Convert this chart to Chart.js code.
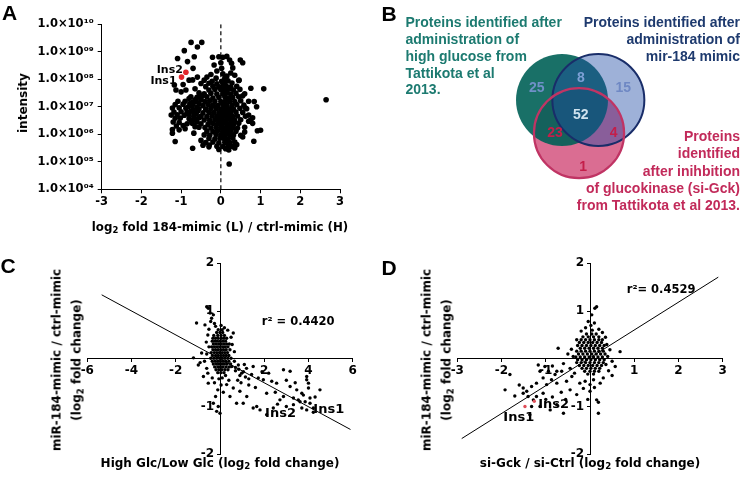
<!DOCTYPE html>
<html><head><meta charset="utf-8">
<script src="https://cdn.jsdelivr.net/npm/chart.js@4.4.1/dist/chart.umd.min.js"></script>
<style>
html,body{margin:0;padding:0;background:#fff;width:741px;height:485px;overflow:hidden;position:relative}
canvas{position:absolute}
.t{position:absolute;white-space:nowrap;font-weight:bold;color:#000}
.dv{font-family:'DejaVu Sans',sans-serif}
.ar{font-family:'Liberation Sans',Arial,sans-serif}
.sub{font-size:0.72em;position:relative;top:0.32em}
</style></head><body>
<canvas id="cA" width="370" height="240" style="left:0;top:0"></canvas>
<canvas id="cB" width="371" height="240" style="left:370px;top:0"></canvas>
<canvas id="cC" width="370" height="245" style="left:0;top:240px"></canvas>
<canvas id="cD" width="371" height="245" style="left:370px;top:240px"></canvas>

<div class="t ar" style="left:2px;top:2px;font-size:21px;line-height:21px">A</div>
<div class="t ar" style="left:381.5px;top:3px;font-size:21px;line-height:21px">B</div>
<div class="t ar" style="left:0.5px;top:255px;font-size:21px;line-height:21px">C</div>
<div class="t ar" style="left:381.5px;top:257px;font-size:21px;line-height:21px">D</div>

<div class="t dv" style="left:220px;top:219.5px;font-size:11.8px;line-height:14px;transform:translateX(-50%)">log<span class="sub">2</span> fold 184-mimic (L) / ctrl-mimic (H)</div>
<div class="t dv" style="left:23px;top:103px;font-size:12px;line-height:14px;transform:translate(-50%,-50%) rotate(-90deg)">intensity</div>

<div class="t dv" style="left:220px;top:455.5px;font-size:12px;line-height:14px;transform:translateX(-50%)">High Glc/Low Glc (log<span class="sub">2</span> fold change)</div>
<div class="t dv" style="left:66.7px;top:360px;font-size:12px;line-height:20px;text-align:center;transform:translate(-50%,-50%) rotate(-90deg)">miR-184-mimic / ctrl-mimic<br>(log<span class="sub">2</span> fold change)</div>

<div class="t dv" style="left:590px;top:455.5px;font-size:12px;line-height:14px;transform:translateX(-50%)">si-Gck / si-Ctrl (log<span class="sub">2</span> fold change)</div>
<div class="t dv" style="left:436.7px;top:360px;font-size:12px;line-height:20px;text-align:center;transform:translate(-50%,-50%) rotate(-90deg)">miR-184-mimic / ctrl-mimic<br>(log<span class="sub">2</span> fold change)</div>

<div class="t ar" style="left:405.5px;top:14.3px;font-size:14px;line-height:16.8px;color:#1c7a70">Proteins identified after<br>administration of<br>high glucose from<br>Tattikota et al<br>2013.</div>
<div class="t ar" style="right:1px;top:14.3px;font-size:14px;line-height:16.8px;text-align:right;color:#1e3a6e">Proteins identified after<br>administration of<br>mir-184 mimic</div>
<div class="t ar" style="right:1px;top:128px;font-size:14px;line-height:17.3px;text-align:right;color:#c22a5a">Proteins<br>identified<br>after inihbition<br>of glucokinase (si-Gck)<br>from Tattikota et al 2013.</div>

<script>
// ---------- Panel A data ----------
const foldTicksA = [-3, -2, -1, 0, 1, 2, 3];
const intensityTicks = [1e4, 1e5, 1e6, 1e7, 1e8, 1e9, 1e10];
const pointsA = [
[-0.22,8.5e7],[0.02,8.5e7],[0.18,8.8e7],
[-0.3,7.2e7],[-0.1,6.8e7],[0.1,7e7],[0.28,7.3e7],
[-0.38,5.4e7],[-0.2,5.6e7],[-0.05,5.3e7],[0.05,5.7e7],[0.15,5.5e7],[0.25,5.2e7],[0.4,5.6e7],
[-0.3,4.1e7],[-0.15,4.3e7],[0,4.2e7],[0.1,4e7],[0.2,4.4e7],[0.32,4.1e7],[0.48,4.3e7],
[-0.42,3e7],[-0.25,3.1e7],[-0.1,2.9e7],[0.05,3e7],[0.15,3.2e7],[0.25,2.9e7],[0.38,3.1e7],[0.6,3e7],
[-0.5,2.2e7],[-0.35,2.3e7],[-0.2,2.1e7],[-0.05,2.2e7],[0.1,2.3e7],[0.2,2.1e7],[0.3,2.2e7],[0.45,2.3e7],
[-0.62,1.6e7],[-0.4,1.55e7],[-0.28,1.65e7],[-0.15,1.6e7],[0,1.55e7],[0.12,1.65e7],[0.22,1.6e7],[0.35,1.55e7],[0.5,1.65e7],[0.7,1.6e7],
[-0.75,1.15e7],[-0.45,1.1e7],[-0.32,1.2e7],[-0.2,1.15e7],[-0.08,1.1e7],[0.05,1.2e7],[0.15,1.15e7],[0.28,1.1e7],[0.4,1.2e7],[0.58,1.15e7],
[-0.55,8.5e6],[-0.38,8.2e6],[-0.25,8.8e6],[-0.12,8.5e6],[0,8.2e6],[0.1,8.8e6],[0.2,8.5e6],[0.32,8.2e6],[0.48,8.8e6],[0.65,8.5e6],
[-0.68,6.2e6],[-0.45,6e6],[-0.3,6.4e6],[-0.18,6.2e6],[-0.05,6e6],[0.05,6.4e6],[0.15,6.2e6],[0.25,6e6],[0.38,6.4e6],[0.55,6.2e6],
[-0.5,4.5e6],[-0.35,4.4e6],[-0.22,4.6e6],[-0.1,4.5e6],[0,4.4e6],[0.1,4.6e6],[0.2,4.5e6],[0.3,4.4e6],[0.42,4.6e6],[0.62,4.5e6],
[-0.42,3.3e6],[-0.28,3.2e6],[-0.15,3.4e6],[-0.05,3.3e6],[0.05,3.2e6],[0.15,3.4e6],[0.25,3.3e6],[0.35,3.2e6],[0.5,3.4e6],[0.75,3.3e6],
[-0.5,2.4e6],[-0.32,2.3e6],[-0.2,2.5e6],[-0.08,2.4e6],[0.02,2.3e6],[0.12,2.5e6],[0.22,2.4e6],[0.32,2.3e6],[0.45,2.5e6],
[-0.4,1.75e6],[-0.25,1.7e6],[-0.12,1.8e6],[0,1.75e6],[0.1,1.7e6],[0.2,1.8e6],[0.3,1.75e6],[0.42,1.7e6],[0.6,1.8e6],
[-0.35,1.3e6],[-0.2,1.25e6],[-0.08,1.35e6],[0.05,1.3e6],[0.15,1.25e6],[0.25,1.35e6],[0.38,1.3e6],
[-0.42,9.5e5],[-0.28,9.2e5],[-0.12,9.8e5],[0,9.5e5],[0.1,9.2e5],[0.22,9.8e5],[0.32,9.5e5],[0.5,9.2e5],
[-0.3,7e5],[-0.15,6.8e5],[-0.02,7.2e5],[0.08,7e5],[0.18,6.8e5],[0.3,7.2e5],
[-0.38,5e5],[-0.2,5.2e5],[-0.05,4.9e5],[0.1,5.1e5],[0.22,5e5],[0.35,5.2e5],
[-0.1,3.7e5],[0.05,3.6e5],[0.18,3.8e5],[0.28,3.7e5],
[-0.05,2.8e5],[0.2,2.7e5],
[-1.15,1.2e7],[-0.95,1.25e7],[-1.22,9e6],[-1.05,9.2e6],[-0.88,8.8e6],[-1.18,6.5e6],[-1.0,6.6e6],[-0.85,6.3e6],
[-1.25,5e6],[-1.1,5.1e6],[-0.92,4.9e6],[-1.15,3.8e6],[-1.02,3.9e6],[-0.8,3.7e6],[-1.2,2.8e6],[-1.05,2.7e6],
[-1.12,2e6],[-0.95,2.1e6],[-1.22,1.5e6],[-1.05,1.45e6],[-1.22,1.1e6],[-1.15,5.5e5],
[-0.7,8e6],[-0.62,5.5e6],[-0.78,1.3e7],[-0.65,3.5e6],[-0.6,2.2e7],[-0.72,2.5e6],[-0.55,1.8e6],[-0.68,1.1e6],[-0.5,6e5],[-0.8,2e7],[-0.9,1.6e7],
[-0.82,1.0e7],[-0.7,1.2e7],[-0.6,9.5e6],[-0.75,7e6],[-0.58,7e6],[-0.8,5.2e6],[-0.68,4.5e6],[-0.55,4e6],[-0.75,3.2e6],[-0.6,2.8e6],
[-0.85,2.4e6],[-0.9,1.6e6],[-0.65,1.9e6],[-0.7,1.5e7],[-0.55,1.3e7],[-0.65,1.8e7],[-0.5,1.8e7],[-0.45,2.6e7],[-0.55,3.2e7],[-0.65,4.5e7],[-1.08,1.6e7],
[-0.75,2.2e9],[-0.48,2.2e9],[-0.59,1.5e9],[-0.92,1.1e9],[-1.09,5.7e8],[-0.67,6.6e8],[-0.84,4.4e8],[-0.8,9.3e7],
[-0.59,1.2e8],[-0.5,7e7],[-1.13,4.1e7],[-1.0,3.5e7],[-0.88,4.1e7],[-0.755,2.3e7],[-0.42,9.3e7],[-1.17,6.2e7],[-0.71,9.5e7],[-0.7,2.5e8],[-0.95,6.5e7],
[-0.05,6.6e8],[0.05,6.3e8],[0.15,6.8e8],[0.22,5e8],[0.27,3.8e8],[0.3,2.6e8],[0.25,1.7e8],[0.15,1.3e8],[0.05,1.6e8],[0.02,2.5e8],[0,4e8],
[-0.17,3.3e8],[-0.21,6.3e8],[0.49,5e8],[0.55,4e8],[-0.1,2e8],[-0.25,1.5e8],[0.35,1.4e8],[0.45,9e7],[-0.35,1.2e8],[0.1,1.1e8],[-0.12,1.1e8],
[0.46,9.3e7],[0.755,4.7e7],[1.08,4.5e7],[0.55,2.5e7],[0.84,1.55e7],[0.9,1.0e7],[0.8,2.5e6],[1.0,1.4e6],[0.92,1.35e6],[0.83,5.6e5],
[0.7,3e6],[0.6,1.2e6],[0.55,8e5],[0.4,4.2e5],[0.35,3.2e5],[0.21,8.3e4],[2.65,1.8e7],[-0.45,4e5],[-0.3,3.5e5],[0.12,3e5],
[-0.71,3.1e5],[-0.29,4.1e5],[0.8,4e6],[0.62,9e6],[0.7,5e6]
];
const insulinA = [['Ins2', -0.88, 1.8e8], ['Ins1', -0.99, 1.2e8]];

// ---------- Panel B data ----------
const vennSetNames = ['High glucose (Tattikota et al 2013)', 'mir-184 mimic', 'si-Gck (Tattikota et al 2013)'];
const vennCenters = [[0, 0], [0.79, 0], [0.37, -0.72]];   // circle centres, in circle-radius units
const vennRadii = [1, 1, 0.98];
const vennCounts = [25, 8, 15, 52, 23, 4, 1];
const vennCountSpots = [[-0.55,0.25],[0.41,0.47],[1.33,0.25],[0.41,-0.33],[-0.15,-0.72],[1.12,-0.72],[0.46,-1.45]];

// ---------- Panel C data ----------
const glcTicks = [-6, -4, -2, 0, 2, 4, 6];
const mimicTicks = [-2, -1, 0, 1, 2];
const pointsC = [
[-0.08,0.61],[0.1,0.61],
[-0.15,0.55],[0,0.55],[0.12,0.55],
[-0.28,0.49],[-0.1,0.49],[0.05,0.49],[0.2,0.49],
[-0.32,0.43],[-0.2,0.43],[-0.08,0.43],[0.06,0.43],[0.18,0.43],[0.3,0.43],
[-0.35,0.37],[-0.24,0.37],[-0.12,0.37],[0,0.37],[0.12,0.37],[0.25,0.37],
[-0.3,0.31],[-0.18,0.31],[-0.06,0.31],[0.06,0.31],[0.18,0.31],[0.3,0.31],[0.42,0.31],
[-0.38,0.25],[-0.25,0.25],[-0.12,0.25],[0,0.25],[0.12,0.25],[0.24,0.25],[0.36,0.25],
[-0.32,0.19],[-0.2,0.19],[-0.08,0.19],[0.04,0.19],[0.16,0.19],[0.28,0.19],[0.45,0.19],
[-0.4,0.13],[-0.26,0.13],[-0.14,0.13],[-0.02,0.13],[0.1,0.13],[0.22,0.13],[0.34,0.13],
[-0.34,0.07],[-0.2,0.07],[-0.08,0.07],[0.04,0.07],[0.16,0.07],[0.28,0.07],[0.4,0.07],
[-0.42,0.01],[-0.28,0.01],[-0.15,0.01],[-0.02,0.01],[0.1,0.01],[0.22,0.01],[0.35,0.01],[0.5,0.01],
[-0.35,-0.05],[-0.22,-0.05],[-0.1,-0.05],[0.02,-0.05],[0.14,-0.05],[0.26,-0.05],[0.4,-0.05],
[-0.3,-0.11],[-0.16,-0.11],[-0.04,-0.11],[0.08,-0.11],[0.2,-0.11],[0.32,-0.11],[0.48,-0.11],
[-0.24,-0.17],[-0.1,-0.17],[0.02,-0.17],[0.14,-0.17],[0.28,-0.17],[0.42,-0.17],
[-0.18,-0.23],[-0.05,-0.23],[0.08,-0.23],[0.22,-0.23],[0.36,-0.23],
[-0.1,-0.29],[0.04,-0.29],[0.18,-0.29],
[-0.6,1.09],[-0.53,1.06],[-0.45,0.96],[-0.3,0.92],[-0.38,0.85],[-0.42,0.78],[-0.25,0.74],[-0.2,0.68],[-1.06,0.75],[-0.68,0.71],
[0.05,0.7],[0.2,0.65],[0.35,0.6],[-0.5,0.62],[0.6,0.54],[0.5,0.45],[-0.55,0.5],[-0.62,0.35],[-0.5,0.25],[0.55,0.3],[0.65,0.15],
[-0.83,0.12],[-0.6,0.1],[-0.7,-0.05],[-0.98,-0.13],[-0.9,-0.08],[-1.2,0.02],[-0.75,-0.37],[-0.55,-0.3],[-0.6,-0.2],
[0.53,-0.16],[0.65,-0.05],[0.83,-0.13],[0.7,-0.25],[1.06,-0.27],[0.9,-0.35],[0.7,-0.18],[0.85,-0.22],[1.1,-0.12],[1.3,-0.42],[1.15,-0.38],[0.95,-0.5],
[-0.3,-0.93],[-0.15,-1.1],[0,-1.14],[-0.08,-1.0],[-0.2,-0.79],[-0.1,-0.65],[0.05,-0.55],[-0.25,-0.5],[-0.53,-0.51],[0.15,-0.7],
[0.1,-0.4],[-0.05,-0.42],[0.3,-0.54],[0.45,-0.79],[0.25,-0.35],[-0.35,-0.4],[0.6,-0.61],[0.4,-0.45],
[0.75,-0.93],[1.05,-0.93],[0.98,-0.3],[1.21,-0.79],[0.9,-0.68],[1.43,-0.33],[1.5,-0.16],[1.73,-0.4],[1.9,-0.27],[1.96,-0.44],
[2.11,-0.72],[2.34,-0.47],[2.56,-0.51],[2.41,-1.03],[2.87,-0.23],[2.87,-0.79],[2.71,-0.86],[3.17,-0.26],[3.17,-0.58],[3.32,-0.82],
[3.47,-0.65],[3.54,-0.86],[3.62,-0.9],[3.7,-0.72],[3.77,-0.76],[3.92,-0.37],[3.92,-0.44],[4.0,-0.51],[4.0,-0.61],[4.07,-0.82],
[4.07,-0.93],[4.22,-1.03],[4.22,-1.12],[3.92,-1.07],[3.7,-1.03],[3.32,-0.96],[4.52,-0.65],[1.5,-1.03],[1.66,-1.0],[1.81,-1.07],
[2.11,-1.17],[1.3,-0.55],[1.6,-0.6],[2.2,-0.3],[2.5,-0.7],[3.0,-0.45],[3.4,-0.5],[1.2,-0.2],[0.8,-0.45],[2.6,-0.95],[3.0,-1.0],[3.85,-0.9],[4.3,-0.8]
];
const fitC = [[-5.35, 1.34], [5.9, -1.48]];
const insulinC = [['Ins2', 2.04, -1.14], ['Ins1', 4.22, -1.07]];
const r2C = 'r\u00b2 = 0.4420';

// ---------- Panel D data ----------
const gckTicks = [-3, -2, -1, 0, 1, 2, 3];
const pointsD = [
[-0.08,0.52],[0.04,0.52],[0.14,0.52],
[-0.16,0.46],[-0.04,0.46],[0.08,0.46],[0.2,0.46],
[-0.2,0.4],[-0.1,0.4],[0,0.4],[0.1,0.4],[0.2,0.4],[0.28,0.4],
[-0.24,0.34],[-0.14,0.34],[-0.04,0.34],[0.06,0.34],[0.16,0.34],[0.26,0.34],
[-0.28,0.28],[-0.18,0.28],[-0.08,0.28],[0.02,0.28],[0.12,0.28],[0.22,0.28],[0.32,0.28],
[-0.22,0.22],[-0.12,0.22],[-0.02,0.22],[0.08,0.22],[0.18,0.22],[0.28,0.22],
[-0.3,0.16],[-0.2,0.16],[-0.1,0.16],[0,0.16],[0.1,0.16],[0.2,0.16],[0.3,0.16],
[-0.26,0.1],[-0.16,0.1],[-0.06,0.1],[0.04,0.1],[0.14,0.1],[0.24,0.1],[0.34,0.1],
[-0.32,0.04],[-0.22,0.04],[-0.12,0.04],[-0.02,0.04],[0.08,0.04],[0.18,0.04],[0.28,0.04],
[-0.28,-0.02],[-0.18,-0.02],[-0.08,-0.02],[0.02,-0.02],[0.12,-0.02],[0.22,-0.02],[0.32,-0.02],
[-0.3,-0.08],[-0.2,-0.08],[-0.1,-0.08],[0,-0.08],[0.1,-0.08],[0.2,-0.08],[0.3,-0.08],
[-0.24,-0.14],[-0.14,-0.14],[-0.04,-0.14],[0.06,-0.14],[0.16,-0.14],[0.26,-0.14],
[-0.18,-0.2],[-0.08,-0.2],[0.02,-0.2],[0.12,-0.2],[0.22,-0.2],
[-0.12,-0.26],[0,-0.26],[0.1,-0.26],[0.2,-0.26],
[-0.05,-0.32],[0.08,-0.32],
[0.11,1.06],[0.15,1.09],[0.04,0.92],[-0.04,0.78],[0.02,0.7],[0.1,0.75],[-0.1,0.65],[0.2,0.62],[0.05,0.6],[0.28,0.55],[-0.2,0.58],[0.35,0.45],[-0.3,0.4],
[0.45,0.19],[0.68,0.15],[0.4,0.05],[0.5,-0.05],[0.57,-0.16],[0.42,-0.25],[0.38,0.3],[0.36,-0.12],[0.5,-0.35],[0.3,-0.4],
[-0.72,0.22],[-0.38,0.05],[-0.45,-0.2],[-0.5,0.1],[-0.42,0.2],[-0.35,-0.3],[-0.64,-0.26],[-0.75,-0.26],[-0.79,-0.33],[-0.94,-0.26],
[-1.06,-0.4],[-1.13,-0.26],[-1.17,-0.13],[-1.02,-0.16],[-0.85,-0.15],[-0.6,-0.1],
[-1.81,-0.33],[-1.92,-0.65],[-1.51,-0.61],[-1.43,-0.68],[-1.32,-0.58],[-1.21,-0.51],[-1.06,-0.72],[-0.98,-0.54],[-0.87,-0.44],[-0.75,-0.51],
[-0.53,-0.47],[-0.41,-0.37],[-0.23,-0.51],[-0.11,-0.47],[0,-0.54],[0.08,-0.44],[0.23,-0.51],[0,-0.68],[0.15,-0.86],[0.19,-1.14],
[0.19,-0.91],[-1.28,-0.86],[-1.21,-0.79],[-1.13,-1.0],[-1.4,-0.79],[-1.51,-0.72],[-0.6,-1.14],[-0.75,-0.96],[-0.9,-1.07],[-1.32,-1.0],
[-1.36,-1.17],[-0.65,-0.7],[-0.85,-0.8],[-0.45,-0.65],[-0.3,-0.75],[-0.15,-0.62],[-0.05,-0.85],[0.1,-0.6],[-1.0,-0.85],[-0.55,-0.85],[-1.6,-0.55],[-1.7,-0.78]
];
const fitD = [[-2.9, -1.67], [2.9, 1.71]];
const insulinD = [['Ins1', -1.47, -1.0], ['Ins2', -1.26, -0.89]];
const insulinLabelsD = [['Ins2', -1.17, -0.96], ['Ins1', -1.96, -1.24]];
const r2D = 'r\u00b2= 0.4529';

// ---------- helpers ----------
Chart.defaults.animation = false;
Chart.defaults.events = [];
Chart.defaults.layout.autoPadding = false;
const dv = (size) => ({ family: 'DejaVu Sans', size: size, weight: 'bold' });
const xy = (arr) => arr.map(p => ({ x: p[0], y: p[1] }));
const noChrome = { legend: { display: false }, tooltip: { enabled: false } };

const notesPlugin = {
  id: 'notes',
  afterDatasetsDraw(chart, args, opts) {
    const ctx = chart.ctx;
    (opts.items || []).forEach(n => {
      const px = chart.scales.x.getPixelForValue(n.x) + (n.dx || 0);
      const py = chart.scales.y.getPixelForValue(n.y) + (n.dy || 0);
      ctx.save();
      ctx.font = n.font;
      ctx.fillStyle = n.color || '#000';
      ctx.textAlign = n.align || 'left';
      ctx.textBaseline = 'middle';
      ctx.fillText(n.text, px, py);
      ctx.restore();
    });
  }
};

const axisGrid = { display: true, drawOnChartArea: false, drawTicks: true, color: '#000', lineWidth: 1 };
const axisBorder = { display: true, color: '#000', width: 1 };

// ---------- Panel A ----------
const supMap = { '0': '\u2070', '1': '\u00b9', '2': '\u00b2', '3': '\u00b3', '4': '\u2074', '5': '\u2075', '6': '\u2076', '7': '\u2077', '8': '\u2078', '9': '\u2079' };
const expLabel = v => '1.0\u00d710' + String(Math.round(Math.log10(v))).padStart(2, '0').split('').map(d => supMap[d]).join('');
const insOffsetsA = [[-3, -2], [-5, 4.5]];

new Chart(document.getElementById('cA'), {
  type: 'scatter',
  data: {
    datasets: [
      { data: insulinA.map(p => ({ x: p[1], y: p[2] })), backgroundColor: '#e3262b', pointRadius: 2.8, borderWidth: 0 },
      { data: xy(pointsA), backgroundColor: '#000', pointRadius: 2.8, borderWidth: 0 },
      { data: [{ x: 0, y: intensityTicks[0] }, { x: 0, y: intensityTicks[intensityTicks.length - 1] }], showLine: true,
        borderColor: '#000', borderWidth: 1.2, borderDash: [4, 3], pointRadius: 0 }
    ]
  },
  options: {
    responsive: false,
    layout: { padding: { top: 24.3, right: 30, left: 0, bottom: 0 }, autoPadding: false },
    scales: {
      x: {
        type: 'linear', min: foldTicksA[0], max: foldTicksA[foldTicksA.length - 1],
        afterBuildTicks: s => { s.ticks = foldTicksA.map(v => ({ value: v })); },
        afterFit: s => { s.height = 50.7; },
        ticks: { color: '#000', font: dv(11.5), padding: 2, autoSkip: false, maxRotation: 0 },
        grid: Object.assign({}, axisGrid, { tickLength: 4 }), border: axisBorder
      },
      y: {
        type: 'logarithmic', min: intensityTicks[0], max: intensityTicks[intensityTicks.length - 1],
        afterBuildTicks: s => { s.ticks = intensityTicks.map(v => ({ value: v })); },
        afterFit: s => { s.width = 101.7; },
        ticks: { color: '#000', font: dv(11.5), padding: 4, autoSkip: false, callback: expLabel },
        grid: Object.assign({}, axisGrid, { tickLength: 4 }), border: axisBorder
      }
    },
    plugins: Object.assign({}, noChrome, {
      notes: { items: insulinA.map((p, i) => ({ x: p[1], y: p[2], text: p[0], align: 'right', dx: insOffsetsA[i][0], dy: insOffsetsA[i][1], font: 'bold 11px "DejaVu Sans"' })) }
    })
  },
  plugins: [notesPlugin]
});

// ---------- Panel B (Venn) ----------
const vennX = [-4.174, 3.891], vennY = [-3.043, 2.174];
const vennCanvasW = 371;
const pxPerUnit = vennCanvasW / (vennX[1] - vennX[0]);
const vennFill = ['rgba(0,96,86,0.9)', 'rgba(30,75,165,0.43)', 'rgba(205,60,110,0.75)'];
const vennLine = ['rgba(0,0,0,0)', 'rgb(25,45,105)', 'rgb(192,52,100)'];
const vennCountColors = ['#6f90c8', '#7da0d6', '#6f88c4', '#cfe3ef', '#c41e4a', '#c41e4a', '#c41e4a'];
const circle = (i, fill, line, width) => ({
  label: vennSetNames[i],
  data: [{ x: vennCenters[i][0], y: vennCenters[i][1], r: vennRadii[i] * pxPerUnit }],
  backgroundColor: fill, borderColor: line, borderWidth: width, clip: false
});

new Chart(document.getElementById('cB'), {
  type: 'bubble',
  data: {
    datasets: [
      circle(2, 'rgba(0,0,0,0)', vennLine[2], 2.2),   // si-Gck outline on top
      circle(1, vennFill[1], vennLine[1], 2),
      circle(0, vennFill[0], vennLine[0], 0),
      circle(2, vennFill[2], 'rgba(0,0,0,0)', 0)      // si-Gck fill underneath
    ]
  },
  options: {
    responsive: false,
    layout: { padding: 0, autoPadding: false },
    scales: {
      x: { type: 'linear', display: false, min: vennX[0], max: vennX[1] },
      y: { type: 'linear', display: false, min: vennY[0], max: vennY[1] }
    },
    plugins: Object.assign({}, noChrome, {
      notes: { items: vennCounts.map((c, i) => ({ x: vennCountSpots[i][0], y: vennCountSpots[i][1], text: String(c), align: 'center', color: vennCountColors[i], font: 'bold 14px "Liberation Sans"' })) }
    })
  },
  plugins: [notesPlugin]
});

// ---------- Panels C & D ----------
function crossScales(xTicks, yTicks) {
  const hideZeroX = v => (v === 0 ? '' : String(v));
  const hideZeroY = v => (v === 0 ? '' : String(v) + '\u2002');   // en-space keeps label off the axis line
  return {
    x: {
      type: 'linear', min: xTicks[0], max: xTicks[xTicks.length - 1], position: { y: 0 },
      afterBuildTicks: s => { s.ticks = xTicks.map(v => ({ value: v })); },
      ticks: { color: '#000', font: dv(12), padding: 2, autoSkip: false, maxRotation: 0, callback: hideZeroX },
      grid: Object.assign({}, axisGrid, { tickLength: 3 }), border: axisBorder
    },
    y: {
      type: 'linear', min: yTicks[0], max: yTicks[yTicks.length - 1], position: { x: 0 },
      afterBuildTicks: s => { s.ticks = yTicks.map(v => ({ value: v })); },
      ticks: { color: '#000', font: dv(12), padding: 4, autoSkip: false, callback: hideZeroY },
      grid: Object.assign({}, axisGrid, { tickLength: 3 }), border: axisBorder
    }
  };
}
const noteFont = 'bold 13px "DejaVu Sans"';
const r2Font = 'bold 11.5px "DejaVu Sans"';

new Chart(document.getElementById('cC'), {
  type: 'scatter',
  data: {
    datasets: [
      { data: xy(fitC), showLine: true, borderColor: '#000', borderWidth: 1, pointRadius: 0 },
      { data: xy(pointsC), backgroundColor: '#000', pointRadius: 1.7, borderWidth: 0 }
    ]
  },
  options: {
    responsive: false,
    layout: { padding: { left: 87.3, right: 17.3, top: 23.3, bottom: 30.7 }, autoPadding: false },
    scales: crossScales(glcTicks, mimicTicks),
    plugins: Object.assign({}, noChrome, {
      notes: { items: [{ x: 1.89, y: 0.76, text: r2C, font: r2Font }]
        .concat(insulinC.map(p => ({ x: p[1], y: p[2], text: p[0], font: noteFont }))) }
    })
  },
  plugins: [notesPlugin]
});

new Chart(document.getElementById('cD'), {
  type: 'scatter',
  data: {
    datasets: [
      { data: insulinD.map(p => ({ x: p[1], y: p[2] })), backgroundColor: '#e0505a', pointRadius: 1.7, borderWidth: 0 },
      { data: xy(fitD), showLine: true, borderColor: '#000', borderWidth: 1, pointRadius: 0 },
      { data: xy(pointsD), backgroundColor: '#000', pointRadius: 1.7, borderWidth: 0 }
    ]
  },
  options: {
    responsive: false,
    layout: { padding: { left: 87.3, right: 18.3, top: 23.3, bottom: 30.7 }, autoPadding: false },
    scales: crossScales(gckTicks, mimicTicks),
    plugins: Object.assign({}, noChrome, {
      notes: { items: [{ x: 0.83, y: 1.44, text: r2D, font: r2Font }]
        .concat(insulinLabelsD.map(p => ({ x: p[1], y: p[2], text: p[0], font: noteFont }))) }
    })
  },
  plugins: [notesPlugin]
});
</script>
</body></html>
